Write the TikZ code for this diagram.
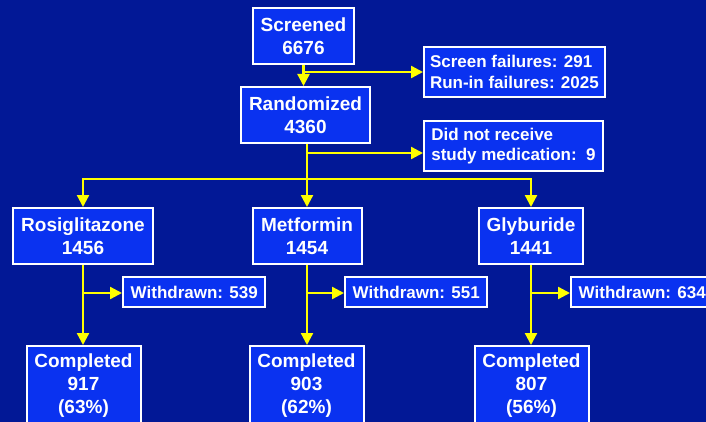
\documentclass[tikz,border=0pt]{standalone}
\usepackage{fontspec}
\setmainfont{Liberation Sans}
\usetikzlibrary{arrows.meta,calc}
\definecolor{bgc}{RGB}{2,24,150}
\definecolor{boxc}{RGB}{10,50,240}
\definecolor{ylw}{RGB}{255,255,0}
\begin{document}
\begin{tikzpicture}[x=1pt,y=-1pt,
  box/.style={draw=white, line width=2pt, fill=boxc, text=white,
    font=\bfseries\fontsize{19}{23}\selectfont, align=center, inner sep=0pt},
  comp/.style={box, anchor=north, inner ysep=8pt, minimum width=114pt},
  side/.style={draw=white, line width=2pt, fill=boxc, text=white,
    font=\bfseries\fontsize{17}{20.5}\selectfont, align=left,
    inner xsep=6pt, inner ysep=0pt, anchor=west},
  wd/.style={side, inner xsep=7.7pt, minimum height=30pt},
  conn/.style={draw=ylw, line width=2.3pt, line join=miter},
  arr/.style={conn, -{Triangle[length=12pt,width=12pt]}},
  arr2/.style={conn, {Triangle[length=12pt,width=12pt]}-{Triangle[length=12pt,width=12pt]}}]
\useasboundingbox (0,0) rectangle (706,422);
\clip (0,0) rectangle (706,422);
\fill[bgc] (0,0) rectangle (706,422);

\node[box, minimum width=101pt, minimum height=56pt] (scr) at (303.5,36) {Screened\\6676};
\node[side, minimum width=178pt, minimum height=50pt] (fail) at (423,72) {Screen failures: 291\\Run-in failures: 2025};
\node[box, minimum width=129pt, minimum height=56pt] (rand) at (305.5,115) {Randomized\\4360};
\node[side, minimum width=179pt, minimum height=50pt] (dnr) at (423,146) {Did not receive\\study medication:~~9};

\node[box, minimum width=140pt, minimum height=56pt] (rosi) at (83,236) {Rosiglitazone\\1456};
\node[box, minimum width=109pt, minimum height=56pt] (met) at (307,236) {Metformin\\1454};
\node[box, minimum width=104pt, minimum height=56pt] (gly) at (531,236) {Glyburide\\1441};

\node[wd] (w1) at (122,292) {Withdrawn: 539};
\node[wd] (w2) at (344,292) {Withdrawn: 551};
\node[wd] (w3) at (570,292) {Withdrawn: 634};

\node[comp] (c1) at (83.5,345) {Completed\\917\\(63\%)};
\node[comp] (c2) at (306.5,345) {Completed\\903\\(62\%)};
\node[comp] (c3) at (531.5,345) {Completed\\807\\(56\%)};

% top connectors
\coordinate (j1) at ($(scr.south)+(0,7)$);
\draw[arr] (scr.south) -- (scr.south |- rand.north);
\draw[arr] (j1) -- (j1 -| fail.west);

\coordinate (j2) at ($(rand.south)+(1.5,9)$);
\coordinate (j3) at ($(rand.south)+(1.5,35)$);
\draw[conn] (rand.south -| j2) -- (j3);
\draw[arr] (j2) -- (j2 -| dnr.west);
\draw[arr2] (rosi.north) -- (rosi.north |- j3) -- (gly.north |- j3) -- (gly.north);
\draw[arr] (j3) -- (j3 |- met.north);

% branches
\coordinate (k1) at ($(rosi.south)+(0,28)$);
\coordinate (k2) at ($(met.south)+(0,28)$);
\coordinate (k3) at ($(gly.south)+(0,28)$);
\draw[arr] (rosi.south) -- (rosi.south |- c1.north);
\draw[arr] (met.south) -- (met.south |- c2.north);
\draw[arr] (gly.south) -- (gly.south |- c3.north);
\draw[arr] (k1) -- (k1 -| w1.west);
\draw[arr] (k2) -- (k2 -| w2.west);
\draw[arr] (k3) -- (k3 -| w3.west);
\end{tikzpicture}
\end{document}
